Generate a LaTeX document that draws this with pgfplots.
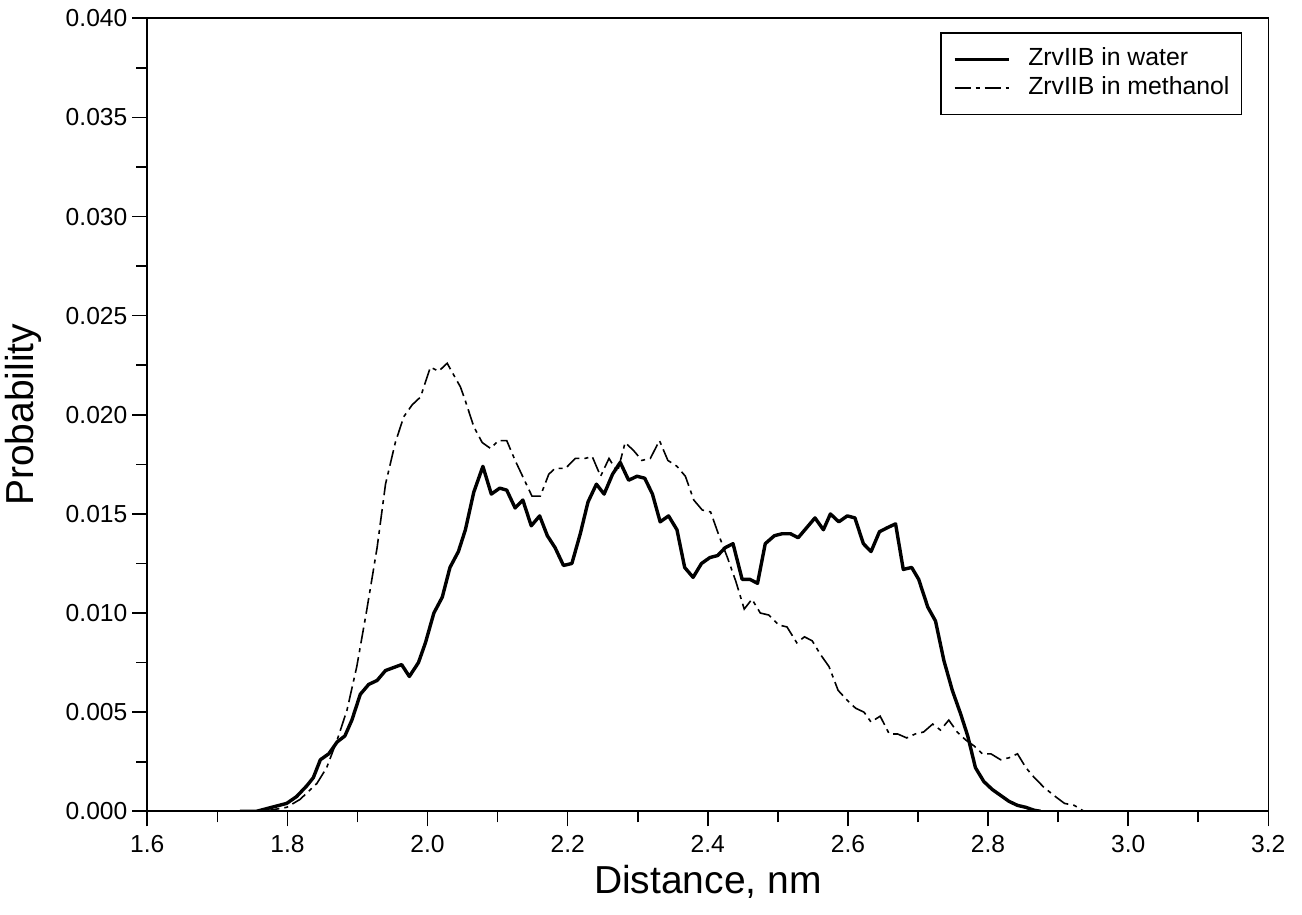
\documentclass[border=0pt]{standalone}
\usepackage{fontspec}
\setmainfont{Liberation Sans}
\usepackage{pgfplots}
\usepackage{pgfplotstable}
\pgfplotsset{compat=1.18}

\pgfplotstableread{
x y
1.732 0
1.756 0
1.799 0.0004
1.813 0.00074
1.828 0.0013
1.837 0.0017
1.847 0.0026
1.859 0.0029
1.871 0.0035
1.882 0.0038
1.892 0.0046
1.904 0.0059
1.916 0.0064
1.928 0.0066
1.940 0.0071
1.963 0.0074
1.974 0.0068
1.987 0.0075
1.997 0.0085
2.009 0.0100
2.021 0.0108
2.032 0.0123
2.044 0.0131
2.054 0.0142
2.066 0.0161
2.079 0.0174
2.091 0.0160
2.103 0.0163
2.113 0.0162
2.125 0.0153
2.136 0.0157
2.148 0.0144
2.160 0.0149
2.171 0.0139
2.182 0.0133
2.194 0.0124
2.206 0.0125
2.218 0.0140
2.229 0.0156
2.241 0.0165
2.252 0.0160
2.264 0.0170
2.275 0.0176
2.287 0.0167
2.299 0.0169
2.310 0.0168
2.321 0.0160
2.332 0.0146
2.344 0.0149
2.356 0.0142
2.367 0.0123
2.379 0.0118
2.391 0.0125
2.403 0.0128
2.414 0.0129
2.425 0.0133
2.436 0.0135
2.449 0.0117
2.460 0.0117
2.471 0.0115
2.482 0.0135
2.495 0.0139
2.506 0.0140
2.518 0.0140
2.529 0.0138
2.541 0.0143
2.553 0.0148
2.565 0.0142
2.575 0.0150
2.587 0.0146
2.599 0.0149
2.610 0.0148
2.622 0.0135
2.633 0.0131
2.645 0.0141
2.656 0.0143
2.668 0.0145
2.679 0.0122
2.691 0.0123
2.701 0.0117
2.714 0.0103
2.725 0.0096
2.737 0.0076
2.749 0.0061
2.761 0.0049
2.771 0.0038
2.782 0.0022
2.794 0.0015
2.806 0.0011
2.818 0.0008
2.830 0.0005
2.842 0.0003
2.854 0.0002
2.866 0.00005
2.875 0
}\water

\pgfplotstableread{
x y
1.766 0
1.799 0.0002
1.818 0.0006
1.842 0.0014
1.856 0.0022
1.871 0.0036
1.885 0.0051
1.899 0.0073
1.913 0.0101
1.928 0.0133
1.940 0.0165
1.954 0.0186
1.966 0.0199
1.978 0.0205
1.990 0.0209
2.004 0.0224
2.016 0.0222
2.028 0.0226
2.047 0.0214
2.054 0.0207
2.066 0.0194
2.078 0.0186
2.090 0.0183
2.101 0.0187
2.113 0.0187
2.125 0.0177
2.137 0.0168
2.149 0.0159
2.161 0.0159
2.173 0.0170
2.182 0.0173
2.197 0.0173
2.211 0.0178
2.225 0.0178
2.235 0.0179
2.247 0.0169
2.259 0.0178
2.271 0.0171
2.282 0.0186
2.294 0.0182
2.306 0.0177
2.318 0.0178
2.331 0.0187
2.343 0.0177
2.356 0.0174
2.368 0.0169
2.380 0.0157
2.392 0.0152
2.404 0.0151
2.416 0.0139
2.428 0.0128
2.440 0.0116
2.452 0.0102
2.463 0.0107
2.475 0.0100
2.487 0.0099
2.501 0.0094
2.513 0.0093
2.527 0.0085
2.538 0.0088
2.549 0.0086
2.561 0.0079
2.573 0.0073
2.586 0.0061
2.599 0.0056
2.611 0.0052
2.623 0.0050
2.633 0.0045
2.646 0.0048
2.659 0.0039
2.671 0.0039
2.684 0.0037
2.696 0.0039
2.708 0.0040
2.721 0.0044
2.732 0.0041
2.744 0.0046
2.756 0.0040
2.768 0.0036
2.780 0.0033
2.792 0.0029
2.804 0.0029
2.818 0.0026
2.830 0.0027
2.842 0.0029
2.854 0.0022
2.866 0.0017
2.880 0.0012
2.894 0.0008
2.909 0.0004
2.923 0.0003
2.937 0
}\methanol

\begin{document}
\begin{tikzpicture}
\begin{axis}[
  scale only axis,
  width=560.5pt, height=396.5pt,
  xmin=1.6, xmax=3.2, ymin=0, ymax=0.04,
  xtick={1.6,1.8,2.0,2.2,2.4,2.6,2.8,3.0,3.2},
  ytick={0,0.005,0.010,0.015,0.020,0.025,0.030,0.035,0.040},
  minor x tick num=1, minor y tick num=1,
  tick align=outside,
  xtick pos=left, ytick pos=left,
  major tick length=7.5pt, minor tick length=5.5pt,
  axis line style={line width=0.8pt},
  every tick/.style={black, line width=0.8pt},
  scaled y ticks=false, scaled x ticks=false,
  /pgf/number format/assume math mode=true,
  xticklabel style={/pgf/number format/fixed, /pgf/number format/precision=1, /pgf/number format/fixed zerofill},
  yticklabel style={/pgf/number format/fixed, /pgf/number format/precision=3, /pgf/number format/fixed zerofill},
  tick label style={font=\fontsize{12.3}{14}\selectfont, inner sep=0pt},
  xticklabel shift=4.5pt,
  yticklabel shift=2.3pt,
  xlabel={Distance, nm},
  ylabel={Probability},
  label style={font=\fontsize{19.5}{22}\selectfont},
  xlabel style={at={(axis description cs:0.5,0)}, anchor=base, yshift=-41pt, inner sep=0pt},
  ylabel style={at={(axis description cs:-0.1017,0.5)}, anchor=base, inner sep=0pt},
  legend style={at={(1,1)}, anchor=north east, xshift=-13pt, yshift=-6.85pt,
    draw=black, line width=0.8pt, font=\fontsize{12.4}{14}\selectfont,
    inner xsep=6pt, inner ysep=7.5pt, row sep=2.6pt,
    nodes={inner sep=0pt, text height=9pt, text depth=2.6pt},
    /tikz/every odd column/.append style={column sep=9pt}},
  legend cell align=left,
  legend image code/.code={\draw[#1] (0pt,0pt) -- (27pt,0pt);},
]
\addplot[black, line width=1.7pt, line join=round] table[x=x,y=y]{\water};
\addlegendentry{ZrvIIB in water}
\addplot[black, line width=0.8pt, dash pattern=on 8pt off 2.5pt on 2pt off 2.5pt] table[x=x,y=y]{\methanol};
\addlegendentry{ZrvIIB in methanol}
\end{axis}
\pgfresetboundingbox
\path ([shift={(-73.65pt,-51.85pt)}]current axis.south west) rectangle ([shift={(16.85pt,9.15pt)}]current axis.north east);
\end{tikzpicture}
\end{document}
